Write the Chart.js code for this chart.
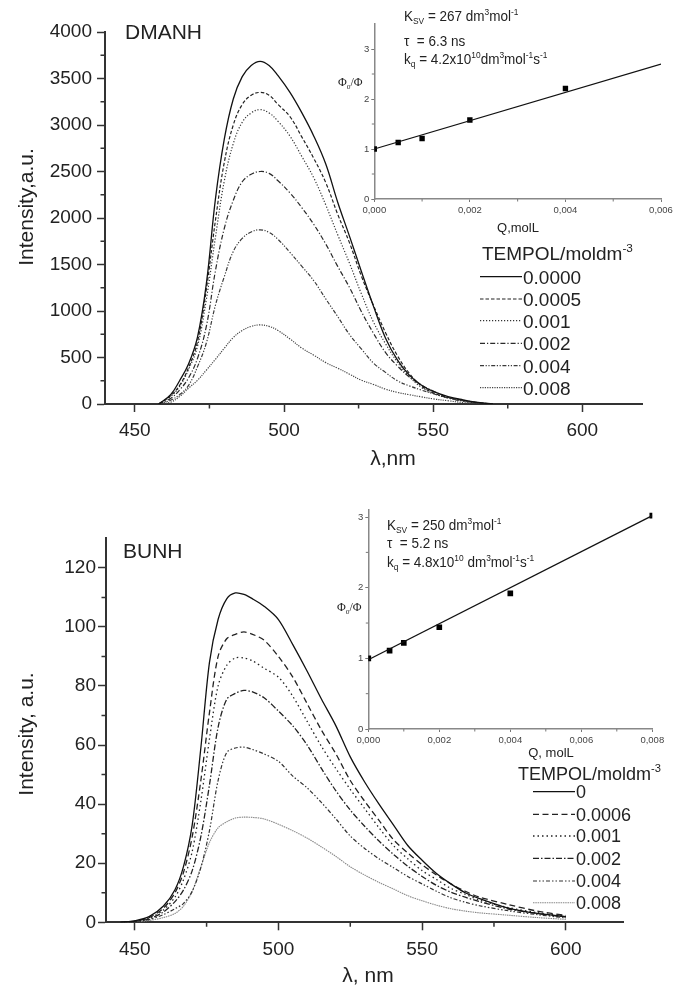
<!DOCTYPE html>
<html>
<head>
<meta charset="utf-8">
<script src="https://cdn.jsdelivr.net/npm/chart.js@4.4.1/dist/chart.umd.min.js"></script>
<style>
  html, body { margin: 0; padding: 0; background: #fff; }
  #wrap { position: relative; width: 678px; height: 986px; overflow: hidden; background: #fff; }
  canvas { position: absolute; }
</style>
</head>
<body>
<div id="wrap">
  <canvas id="dmanhMain" width="678" height="470" style="left:0;top:0"></canvas>
  <canvas id="dmanhInset" width="348" height="240" style="left:330px;top:0"></canvas>
  <canvas id="bunhMain" width="678" height="496" style="left:0;top:490px"></canvas>
  <canvas id="bunhInset" width="348" height="275" style="left:330px;top:490px"></canvas>
</div>
<script>
// ---- DMANH spectra (top panel) ----
const dmanhWl = [458, 462, 465, 468, 471, 474, 477, 480, 483, 486, 489, 492, 495, 498, 502, 506, 510, 514, 518, 522, 526, 530, 534, 538, 542, 546, 550, 555, 560, 565, 570];
const dmanh0000 = [0, 100, 250, 430, 720, 1300, 2200, 2850, 3280, 3520, 3640, 3685, 3640, 3530, 3350, 3130, 2880, 2580, 2170, 1800, 1420, 1050, 710, 474, 310, 205, 135, 80, 45, 18, 0];
const dmanh0005 = [0, 90, 200, 390, 670, 1240, 1970, 2600, 3000, 3220, 3320, 3350, 3320, 3220, 3090, 2870, 2640, 2380, 2040, 1730, 1370, 1060, 770, 520, 330, 195, 120, 70, 40, 15, 0];
const dmanh001 = [0, 80, 190, 370, 620, 1130, 1790, 2400, 2800, 3030, 3130, 3165, 3130, 3040, 2880, 2660, 2430, 2140, 1820, 1510, 1180, 880, 650, 450, 295, 180, 115, 65, 35, 12, 0];
const dmanh002 = [0, 60, 150, 280, 490, 840, 1430, 1890, 2190, 2390, 2470, 2500, 2480, 2400, 2270, 2110, 1930, 1720, 1480, 1250, 990, 760, 555, 410, 290, 205, 140, 70, 35, 12, 0];
const dmanh004 = [0, 40, 100, 200, 400, 660, 1060, 1370, 1640, 1780, 1850, 1873, 1845, 1770, 1630, 1480, 1325, 1130, 940, 745, 590, 440, 340, 250, 195, 150, 110, 65, 30, 10, 0];
const dmanh008 = [0, 20, 80, 170, 255, 365, 480, 600, 715, 790, 835, 850, 835, 790, 700, 600, 525, 445, 385, 320, 255, 210, 160, 125, 100, 77, 55, 35, 15, 5, 0];
const dmanhConc = ['0.0000', '0.0005', '0.001', '0.002', '0.004', '0.008'];

// ---- BUNH spectra (bottom panel) ----
const bunhWl = [445, 450, 455, 460, 464, 467, 470, 473, 476, 479, 482, 485, 488, 491, 495, 500, 505, 510, 515, 520, 525, 530, 535, 540, 545, 550, 555, 560, 565, 570, 580, 590, 600];
const bunh0 = [0, 0.5, 1.9, 5.5, 11, 19, 33, 59, 88, 102.5, 109.5, 111.5, 111, 109.5, 107, 102.5, 94, 85, 75.5, 66.5, 56, 47.5, 40, 33, 26, 21, 16.5, 13, 10, 8, 4.8, 3, 1.9];
const bunh0006 = [0, 0.4, 1.6, 4.8, 10, 17, 29, 48, 71, 90, 96, 97.5, 98.3, 97.5, 95.5, 90, 83, 74, 65, 57, 48, 41, 34.5, 28, 23.5, 19.5, 16, 13, 10.5, 8.5, 6, 3.8, 2.3];
const bunh001 = [0, 0.3, 1.4, 4.2, 8.5, 14.5, 24, 41, 62, 80, 87, 89.5, 89.5, 88.5, 86, 83, 76.5, 68, 59.5, 52, 45, 38.5, 32, 26, 21.5, 17.5, 14.5, 11.5, 9.5, 7.5, 5, 3.3, 2];
const bunh002 = [0, 0.3, 1.2, 3.5, 7, 11, 17.5, 29, 46.5, 66, 75.5, 77.5, 78.5, 78, 76, 71.5, 66.5, 60, 52, 44.5, 38, 32.5, 27.5, 23, 19, 15.5, 12.5, 10.2, 8.5, 7, 4.5, 3, 1.8];
const bunh004 = [0, 0.2, 0.9, 2.6, 4.6, 6.4, 10.5, 18.5, 31, 48, 57.5, 59, 59.3, 58.5, 57, 54.5, 49.5, 45.5, 40.5, 35, 29.2, 25, 21.5, 18.5, 15.5, 13, 10.5, 8.3, 6.8, 5.6, 3.9, 2.6, 1.5];
const bunh008 = [0, 0.1, 0.6, 1.6, 3, 5.5, 10.5, 18.7, 27, 32, 34, 35.3, 35.6, 35.5, 35, 33.2, 31, 28.5, 25.5, 22.3, 18.8, 16, 13.5, 11.3, 9, 7.3, 5.8, 4.6, 3.8, 3.2, 2.4, 1.6, 1];
const bunhConc = ['0', '0.0006', '0.001', '0.002', '0.004', '0.008'];

// ---- Stern-Volmer insets ----
const dmanhQ = [0, 0.0005, 0.001, 0.002, 0.004];
const dmanhRatio = [1.0, 1.13, 1.21, 1.58, 2.21];
const dmanhFitQ = [0, 0.006];
const dmanhFitRatio = [1.0, 2.70];
const bunhQ = [0, 0.0006, 0.001, 0.002, 0.004, 0.008];
const bunhRatio = [1.0, 1.11, 1.22, 1.44, 1.92, 3.02];
const bunhFitQ = [0, 0.008];
const bunhFitRatio = [0.98, 3.02];

// ---- tick values ----
const wlTicks = [450, 500, 550, 600];
const wlMinor = [475, 525, 575];
const dmanhYTicks = [0, 500, 1000, 1500, 2000, 2500, 3000, 3500, 4000];
const dmanhYMinor = [250, 750, 1250, 1750, 2250, 2750, 3250, 3750];
const bunhYTicks = [0, 20, 40, 60, 80, 100, 120];
const bunhYMinor = [10, 30, 50, 70, 90, 110];
const dmanhQTicks = [0, 0.002, 0.004, 0.006];
const dmanhQMinor = [0.001, 0.003, 0.005];
const bunhQTicks = [0, 0.002, 0.004, 0.006, 0.008];
const bunhQMinor = [0.001, 0.003, 0.005, 0.007];
const ratioTicks = [0, 1, 2, 3];
const ratioMinor = [0.5, 1.5, 2.5];

const SANS = '"Liberation Sans", Arial, sans-serif';
const SERIF = '"Liberation Serif", "Times New Roman", serif';
Chart.defaults.font.family = SANS;
Chart.defaults.color = '#222';

const dmanhDash = [[], [3.5, 2], [1.2, 1.8], [5, 2, 1.2, 2], [4, 1.6, 1.2, 1.6, 1.2, 1.6], [1.2, 1.2]];
const dmanhColor = ['#111', '#222', '#333', '#2a2a2a', '#3a3a3a', '#444'];
const bunhDash = [[], [6, 3.5], [1.5, 3], [6, 2, 1.5, 2], [4, 2, 1.5, 2, 1.5, 2], [1.5, 0.8]];
const bunhColor = ['#111', '#222', '#222', '#222', '#333', '#888'];

function pts(xs, ys) {
    return xs.map((x, i) => ({ x: x, y: ys[i] }));
}

// draws text with sub/superscript parts, y is the baseline
function rich(ctx, x, y, parts, size, family, sx, color) {
    ctx.save();
    ctx.translate(x, y);
    ctx.scale(sx || 1, 1);
    ctx.fillStyle = color || '#222';
    ctx.textBaseline = 'alphabetic';
    ctx.textAlign = 'left';
    let cx = 0;
    parts.forEach(p => {
        const k = p[1] || 'n';
        const s = k === 'n' ? size : size * 0.62;
        const dy = k === 'sub' ? size * 0.22 : (k === 'sup' ? -size * 0.42 : 0);
        ctx.font = s + 'px ' + family;
        ctx.fillText(p[0], cx, dy);
        cx += ctx.measureText(p[0]).width;
    });
    ctx.restore();
}

function centerText(ctx, x, y, text, size, family, rot) {
    ctx.save();
    ctx.translate(x, y);
    if (rot) ctx.rotate(rot);
    ctx.font = size + 'px ' + family;
    ctx.fillStyle = '#222';
    ctx.textAlign = 'center';
    ctx.textBaseline = 'alphabetic';
    ctx.fillText(text, 0, 0);
    ctx.restore();
}

// short outward ticks between the major ones
function minorTicks(xVals, yVals, len, color, width) {
    return {
        id: 'minorTicks',
        afterDraw(chart) {
            const ctx = chart.ctx, a = chart.chartArea;
            ctx.save();
            ctx.strokeStyle = color;
            ctx.lineWidth = width;
            ctx.beginPath();
            xVals.forEach(v => {
                const p = chart.scales.x.getPixelForValue(v);
                ctx.moveTo(p, a.bottom);
                ctx.lineTo(p, a.bottom + len);
            });
            yVals.forEach(v => {
                const p = chart.scales.y.getPixelForValue(v);
                ctx.moveTo(a.left - len, p);
                ctx.lineTo(a.left, p);
            });
            ctx.stroke();
            ctx.restore();
        }
    };
}

function drawLegend(chart, x1, x2, rows, titleX, titleY, size) {
    const ctx = chart.ctx;
    rich(ctx, titleX, titleY, [['TEMPOL/moldm'], ['-3', 'sup']], size, SANS, 1);
    chart.data.datasets.forEach((ds, i) => {
        ctx.save();
        ctx.strokeStyle = ds.borderColor;
        ctx.lineWidth = ds.borderWidth;
        ctx.setLineDash(ds.borderDash);
        ctx.beginPath();
        ctx.moveTo(x1, rows[i]);
        ctx.lineTo(x2, rows[i]);
        ctx.stroke();
        ctx.restore();
        rich(ctx, x2 + 1, rows[i] + size * 0.36, [[ds.label]], size, SANS, 1);
    });
}

function spectrumDatasets(wl, series, labels, dashes, colors, widths, tension) {
    return series.map((s, i) => ({
        label: labels[i],
        data: pts(wl, s),
        borderColor: colors[i],
        borderDash: dashes[i],
        borderWidth: widths[i],
        pointRadius: 0,
        fill: false,
        tension: tension
    }));
}

function mainScales(yMax, yTicks, yWidth, xHeight, yPad, xPad) {
    return {
        x: {
            type: 'linear', min: 440, max: 620,
            afterFit: s => { s.height = xHeight; },
            afterBuildTicks: s => { s.ticks = wlTicks.map(v => ({ value: v })); },
            grid: { drawOnChartArea: false, tickLength: 8, tickWidth: 1.5, tickColor: '#333' },
            border: { display: true, width: 2, color: '#333' },
            ticks: { padding: xPad, font: { size: 19 }, color: '#222', maxRotation: 0, autoSkip: false, callback: v => String(v) }
        },
        y: {
            type: 'linear', min: 0, max: yMax,
            afterFit: s => { s.width = yWidth; },
            afterBuildTicks: s => { s.ticks = yTicks.map(v => ({ value: v })); },
            grid: { drawOnChartArea: false, tickLength: 8, tickWidth: 1.5, tickColor: '#333' },
            border: { display: true, width: 2, color: '#333' },
            ticks: { padding: yPad, font: { size: 19 }, color: '#222', autoSkip: false, callback: v => String(v) }
        }
    };
}

function insetScales(xMax, xTicks, yMax, yWidth, xHeight) {
    return {
        x: {
            type: 'linear', min: 0, max: xMax,
            afterFit: s => { s.height = xHeight; },
            afterBuildTicks: s => { s.ticks = xTicks.map(v => ({ value: v })); },
            grid: { drawOnChartArea: false, tickLength: 3, tickWidth: 1, tickColor: '#777' },
            border: { display: true, width: 1.5, color: '#888' },
            ticks: { padding: 3, font: { size: 9.5 }, color: '#444', maxRotation: 0, autoSkip: false, callback: v => v.toFixed(3).replace('.', ',') }
        },
        y: {
            type: 'linear', min: 0, max: yMax,
            afterFit: s => { s.width = yWidth; },
            afterBuildTicks: s => { s.ticks = ratioTicks.map(v => ({ value: v })); },
            grid: { drawOnChartArea: false, tickLength: 3, tickWidth: 1, tickColor: '#777' },
            border: { display: true, width: 1.5, color: '#888' },
            ticks: { padding: 2, font: { size: 9.5 }, color: '#444', autoSkip: false, callback: v => String(v) }
        }
    };
}

function insetDatasets(q, r, fq, fr, radius) {
    return [
        { data: pts(fq, fr), showLine: true, borderColor: '#111', borderWidth: 1.3, pointRadius: 0 },
        { data: pts(q, r), showLine: false, pointStyle: 'rect', pointRadius: radius, backgroundColor: '#000', borderColor: '#000', borderWidth: 0 }
    ];
}

const common = {
    responsive: false,
    animation: false,
    devicePixelRatio: 1,
    events: [],
    plugins: { legend: { display: false }, tooltip: { enabled: false } }
};

// ---- top panel ----
new Chart(document.getElementById('dmanhMain'), {
    type: 'line',
    data: {
        datasets: spectrumDatasets(dmanhWl, [dmanh0000, dmanh0005, dmanh001, dmanh002, dmanh004, dmanh008],
            dmanhConc, dmanhDash, dmanhColor, [1.3, 1.2, 1.2, 1.2, 1.2, 1.2], 0.4)
    },
    options: Object.assign({}, common, {
        layout: { padding: { left: 0, top: 32, right: 36, bottom: 0 } },
        scales: mainScales(4000, dmanhYTicks, 105, 66, 5, 7)
    }),
    plugins: [minorTicks(wlMinor, dmanhYMinor, 4.5, '#333', 1.5), {
        id: 'dmanhText',
        afterDraw(chart) {
            const ctx = chart.ctx;
            rich(ctx, 125, 39, [['DMANH']], 21, SANS, 1);
            centerText(ctx, 33, 207, 'Intensity,a.u.', 21, SANS, -Math.PI / 2);
            centerText(ctx, 393, 465, 'λ,nm', 21, SANS);
            drawLegend(chart, 480, 522, [276.7, 299, 320.7, 343.3, 365.7, 387.7], 482, 260, 19);
        }
    }]
});

new Chart(document.getElementById('dmanhInset'), {
    type: 'scatter',
    data: { datasets: insetDatasets(dmanhQ, dmanhRatio, dmanhFitQ, dmanhFitRatio, 3.8) },
    options: Object.assign({}, common, {
        layout: { padding: { left: 0, top: 24, right: 17, bottom: 0 } },
        scales: insetScales(0.006, dmanhQTicks, 3.5, 44.3, 41)
    }),
    plugins: [minorTicks(dmanhQMinor, ratioMinor, 2.5, '#777', 1), {
        id: 'dmanhInsetText',
        afterDraw(chart) {
            const ctx = chart.ctx;
            rich(ctx, 74, 21, [['K'], ['SV', 'sub'], [' = 267 dm'], ['3', 'sup'], ['mol'], ['-1', 'sup']], 15, SANS, 0.9);
            rich(ctx, 74, 46, [['τ  = 6.3 ns']], 15, SANS, 0.9);
            rich(ctx, 74, 64, [['k'], ['q', 'sub'], [' = 4.2x10'], ['10', 'sup'], ['dm'], ['3', 'sup'], ['mol'], ['-1', 'sup'], ['s'], ['-1', 'sup']], 15, SANS, 0.9);
            rich(ctx, 8, 86, [['Φ'], ['o', 'sub'], ['/Φ']], 12, SERIF, 1);
            centerText(ctx, 188, 232, 'Q,molL', 13, SANS);
        }
    }]
});

// ---- bottom panel ----
new Chart(document.getElementById('bunhMain'), {
    type: 'line',
    data: {
        datasets: spectrumDatasets(bunhWl, [bunh0, bunh0006, bunh001, bunh002, bunh004, bunh008],
            bunhConc, bunhDash, bunhColor, [1.3, 1.3, 1.3, 1.3, 1.2, 1.1], 0.3)
    },
    options: Object.assign({}, common, {
        layout: { padding: { left: 0, top: 48.3, right: 54.7, bottom: 0 } },
        scales: mainScales(130, bunhYTicks, 106, 63.7, 2, 8)
    }),
    plugins: [minorTicks(wlMinor, bunhYMinor, 4.5, '#333', 1.5), {
        id: 'bunhText',
        afterDraw(chart) {
            const ctx = chart.ctx;
            rich(ctx, 123, 68, [['BUNH']], 21, SANS, 1);
            centerText(ctx, 33, 244, 'Intensity, a.u.', 21, SANS, -Math.PI / 2);
            centerText(ctx, 368, 492, 'λ, nm', 21, SANS);
            drawLegend(chart, 533, 575, [301.7, 324.3, 346, 368.3, 391, 412.7], 518, 290, 18);
        }
    }]
});

new Chart(document.getElementById('bunhInset'), {
    type: 'scatter',
    data: { datasets: insetDatasets(bunhQ, bunhRatio, bunhFitQ, bunhFitRatio, 4) },
    options: Object.assign({}, common, {
        layout: { padding: { left: 0, top: 20, right: 25.7, bottom: 0 } },
        scales: insetScales(0.008, bunhQTicks, 3.1, 38.3, 36)
    }),
    plugins: [minorTicks(bunhQMinor, ratioMinor, 2.5, '#777', 1), {
        id: 'bunhInsetText',
        afterDraw(chart) {
            const ctx = chart.ctx;
            rich(ctx, 57, 40, [['K'], ['SV', 'sub'], [' = 250 dm'], ['3', 'sup'], ['mol'], ['-1', 'sup']], 15, SANS, 0.9);
            rich(ctx, 57, 58, [['τ  = 5.2 ns']], 15, SANS, 0.9);
            rich(ctx, 57, 77, [['k'], ['q', 'sub'], [' = 4.8x10'], ['10', 'sup'], [' dm'], ['3', 'sup'], ['mol'], ['-1', 'sup'], ['s'], ['-1', 'sup']], 15, SANS, 0.9);
            rich(ctx, 7, 121, [['Φ'], ['o', 'sub'], ['/Φ']], 12, SERIF, 1);
            centerText(ctx, 221, 267, 'Q, molL', 13, SANS);
        }
    }]
});
</script>
</body>
</html>
